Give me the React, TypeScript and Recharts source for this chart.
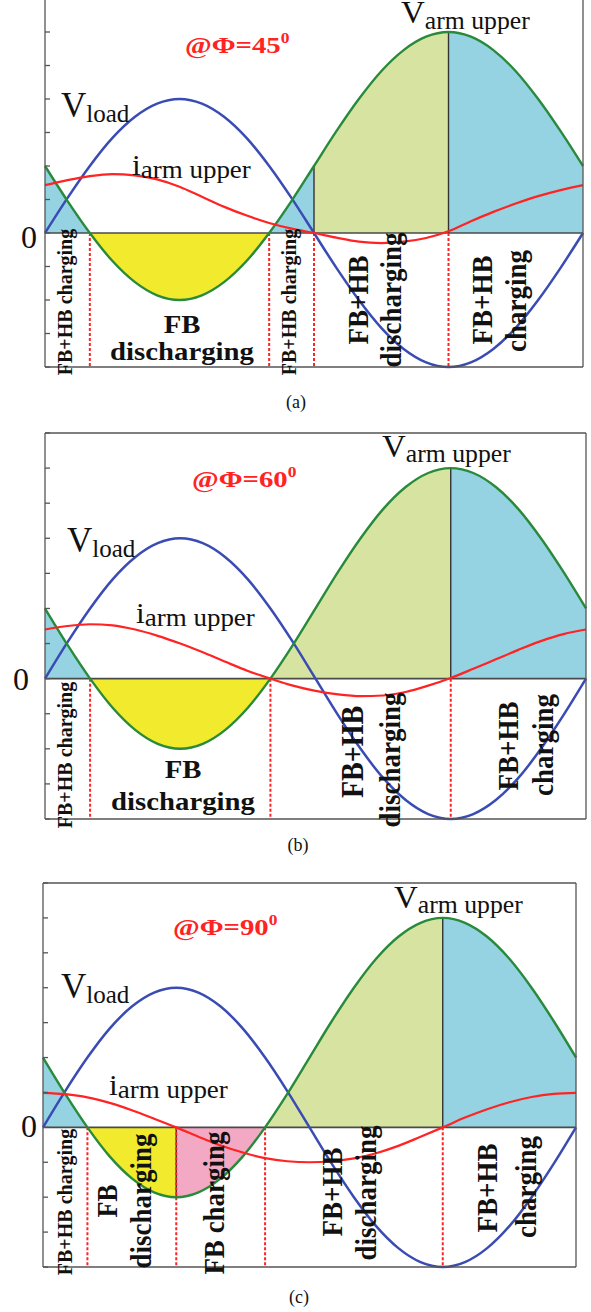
import React from 'react';
import { ComposedChart, Line, Area, XAxis, YAxis, ReferenceLine } from 'recharts';

// phase angle of the load voltage, degrees
const angles = [0, 15, 30, 45, 60, 75, 90, 105, 120, 135, 150, 165, 180, 195, 210, 225, 240, 255, 270, 285, 300, 315, 330, 345, 360];

// V load (same in all three cases)
const vLoad = [0, 1.04, 2.0, 2.83, 3.46, 3.86, 4.0, 3.86, 3.46, 2.83, 2.0, 1.04, 0, -1.04, -2.0, -2.83, -3.46, -3.86, -4.0, -3.86, -3.46, -2.83, -2.0, -1.04, 0];
// V arm upper
const vArm = [2.0, 0.96, 0, -0.83, -1.46, -1.86, -2.0, -1.86, -1.46, -0.83, 0, 0.96, 2.0, 3.04, 4.0, 4.83, 5.46, 5.86, 6.0, 5.86, 5.46, 4.83, 4.0, 3.04, 2.0];

// i arm upper for each load angle
const iArm45 = [1.43, 1.58, 1.7, 1.76, 1.72, 1.6, 1.38, 1.08, 0.78, 0.52, 0.3, 0.13, 0, -0.14, -0.26, -0.3, -0.26, -0.15, 0.05, 0.35, 0.63, 0.88, 1.1, 1.28, 1.43];
const iArm60 = [1.4, 1.5, 1.55, 1.52, 1.4, 1.22, 1.0, 0.75, 0.48, 0.22, 0, -0.2, -0.35, -0.45, -0.5, -0.48, -0.38, -0.2, 0.02, 0.28, 0.55, 0.82, 1.07, 1.27, 1.4];
const iArm90 = [0.99, 0.95, 0.86, 0.7, 0.49, 0.25, 0, -0.27, -0.52, -0.72, -0.88, -0.97, -1.0, -0.97, -0.89, -0.74, -0.53, -0.27, 0, 0.28, 0.52, 0.72, 0.87, 0.96, 0.99];

// charging / discharging intervals (degrees) and their kind
const bounds45 = [0, 30, 150, 180, 270, 360];
const kinds45 = ['hb', 'fbDis', 'hb', 'hbDis', 'hb'];
const bounds60 = [0, 30, 150, 270, 360];
const kinds60 = ['hb', 'fbDis', 'hbDis', 'hb'];
const bounds90 = [0, 30, 90, 150, 270, 360];
const kinds90 = ['hb', 'fbDis', 'fbChg', 'hbDis', 'hb'];

const edges45 = [180, 270];
const edges60 = [270];
const edges90 = [90, 270];
const dotted45 = [30, 150, 180, 270];
const dotted60 = [30, 150, 270];
const dotted90 = [30, 90, 150, 270];

const xTicks = [0, 36, 72, 108, 144, 180, 216, 252, 288, 324, 360];
const yTicks = [-4, -3, -2, -1, 0, 1, 2, 3, 4, 5, 6, 7];

const FILL: Record<string, string> = {
  hb: '#95d3e3',
  fbDis: '#f2ea2c',
  fbChg: '#f3a9c4',
  hbDis: '#d7e4a1',
};
const BLUE = '#3a4cb3';
const GREEN = '#288a3a';
const RED = '#ff2323';
const AXIS = '#555';
const SERIF = '"Liberation Serif", "Times New Roman", serif';

interface PanelProps {
  top: number;
  height: number;
  margin: { top: number; right: number; bottom: number; left: number };
  iArm: number[];
  bounds: number[];
  kinds: string[];
  edges: number[];
  dotted: number[];
  zeroRight: number;
  zeroDy: number;
}

function Panel({ top, height, margin, iArm, bounds, kinds, edges, dotted, zeroRight, zeroDy }: PanelProps) {
  const rows = angles.map((t, k) => ({ t, vLoad: vLoad[k], vArm: vArm[k], iArm: iArm[k] }));
  const regions = kinds.map((kind, r) => ({
    kind,
    data: rows.filter(d => d.t >= bounds[r] && d.t <= bounds[r + 1]),
  }));
  const armAt = (t: number) => vArm[angles.indexOf(t)];

  const zeroTick = (p: any) => {
    if (p.payload.value !== 0) return <g />;
    return (
      <text x={zeroRight} y={p.y + zeroDy} textAnchor="end" fontFamily={SERIF} fontSize={32} fill="#111">0</text>
    );
  };

  return (
    <div style={{ position: 'absolute', left: 0, top }}>
      <ComposedChart width={591} height={height} data={rows} margin={margin}>
        <XAxis xAxisId="b" dataKey="t" type="number" domain={[0, 360]} ticks={xTicks} orientation="bottom"
               mirror tick={false} tickSize={5} stroke={AXIS} strokeWidth={1.3} />
        <XAxis xAxisId="t" dataKey="t" type="number" domain={[0, 360]} ticks={xTicks} orientation="top"
               mirror tick={false} tickSize={5} stroke={AXIS} strokeWidth={1.3} />
        <YAxis yAxisId="l" type="number" domain={[-4, 7]} ticks={yTicks} orientation="left"
               mirror tick={zeroTick} tickSize={5} tickMargin={0} stroke={AXIS} strokeWidth={1.3} />
        <YAxis yAxisId="r" type="number" domain={[-4, 7]} ticks={yTicks} orientation="right"
               mirror tick={false} tickSize={5} stroke={AXIS} strokeWidth={1.3} />

        {regions.map((g, r) => (
          <Area key={'a' + r} xAxisId="b" yAxisId="l" data={g.data} dataKey="vArm" type="monotone"
                baseValue={0} fill={FILL[g.kind]} fillOpacity={1} stroke="none" isAnimationActive={false} />
        ))}

        <ReferenceLine xAxisId="b" yAxisId="l" y={0} stroke="#4a4a4a" strokeWidth={1.6} />
        {edges.map(t => (
          <ReferenceLine key={'e' + t} xAxisId="b" yAxisId="l" segment={[{ x: t, y: 0 }, { x: t, y: armAt(t) }]}
                         stroke="#333" strokeWidth={1.4} />
        ))}
        {dotted.map(t => (
          <ReferenceLine key={'d' + t} xAxisId="b" yAxisId="l" segment={[{ x: t, y: 0 }, { x: t, y: -4 }]}
                         stroke={RED} strokeWidth={2} strokeDasharray="3 2" />
        ))}

        <Line xAxisId="b" yAxisId="l" dataKey="vLoad" type="monotone" stroke={BLUE} strokeWidth={2.5} dot={false} isAnimationActive={false} />
        <Line xAxisId="b" yAxisId="l" dataKey="vArm" type="monotone" stroke={GREEN} strokeWidth={2.4} dot={false} isAnimationActive={false} />
        <Line xAxisId="b" yAxisId="l" dataKey="iArm" type="monotone" stroke={RED} strokeWidth={2.2} dot={false} isAnimationActive={false} />
      </ComposedChart>
    </div>
  );
}

function T({ x, y, size, rot = 0, sx = 1, bold = false, color = '#111', anchor = 'start', children }: any) {
  return (
    <text transform={`translate(${x},${y}) scale(${sx},1)${rot ? ` rotate(${rot})` : ''}`}
          fontSize={size} fontWeight={bold ? 700 : 400} fill={color} textAnchor={anchor} fontFamily={SERIF}>
      {children}
    </text>
  );
}

export default function App() {
  return (
    <div style={{ position: 'absolute', left: 0, top: 0, width: 591, height: 1312, background: '#fff', overflow: 'hidden' }}>
      <Panel top={-20} height={420} margin={{ top: 18.5, right: 8, bottom: 33, left: 45 }}
             iArm={iArm45} bounds={bounds45} kinds={kinds45} edges={edges45} dotted={dotted45} zeroRight={37} zeroDy={15} />
      <Panel top={413} height={426} margin={{ top: 20, right: 5, bottom: 20, left: 45 }}
             iArm={iArm60} bounds={bounds60} kinds={kinds60} edges={edges60} dotted={dotted60} zeroRight={29} zeroDy={11} />
      <Panel top={863} height={424} margin={{ top: 20, right: 15, bottom: 20, left: 43 }}
             iArm={iArm90} bounds={bounds90} kinds={kinds90} edges={edges90} dotted={dotted90} zeroRight={37} zeroDy={10} />

      <svg width={591} height={1312} style={{ position: 'absolute', left: 0, top: 0, pointerEvents: 'none' }}>
        {/* (a) */}
        <T x={185} y={53} size={23} bold sx={1.25} color={RED}>@Φ=45<tspan fontSize={14} dy={-10}>0</tspan></T>
        <T x={61} y={117} size={35}>V<tspan fontSize={25} dy={5}>load</tspan></T>
        <T x={132} y={175} size={29} sx={1.08}>i<tspan fontSize={25} dy={3}>arm upper</tspan></T>
        <T x={401} y={23} size={32} sx={1.03}>V<tspan fontSize={25} dy={6}>arm upper</tspan></T>
        <T x={72} y={302} size={20} bold rot={-90} anchor="middle">FB+HB charging</T>
        <T x={182} y={333} size={25} bold sx={1.15} anchor="middle">FB</T>
        <T x={182} y={360} size={25} bold sx={1.15} anchor="middle">discharging</T>
        <T x={296} y={302} size={20} bold rot={-90} anchor="middle">FB+HB charging</T>
        <T x={368} y={300} size={27} bold sx={1.1} rot={-90} anchor="middle">FB+HB</T>
        <T x={401} y={300} size={27} bold sx={1.1} rot={-90} anchor="middle">discharging</T>
        <T x={492} y={300} size={27} bold sx={1.1} rot={-90} anchor="middle">FB+HB</T>
        <T x={526} y={301} size={27} bold sx={1.1} rot={-90} anchor="middle">charging</T>
        <T x={296} y={408} size={18} anchor="middle">(a)</T>

        {/* (b) */}
        <T x={192} y={487} size={23} bold sx={1.25} color={RED}>@Φ=60<tspan fontSize={14} dy={-10}>0</tspan></T>
        <T x={67} y={552} size={35}>V<tspan fontSize={25} dy={5}>load</tspan></T>
        <T x={136} y={623} size={29} sx={1.08}>i<tspan fontSize={25} dy={3}>arm upper</tspan></T>
        <T x={382} y={457} size={32} sx={1.03}>V<tspan fontSize={25} dy={5}>arm upper</tspan></T>
        <T x={72} y={755} size={20} bold rot={-90} anchor="middle">FB+HB charging</T>
        <T x={183} y={778} size={25} bold sx={1.15} anchor="middle">FB</T>
        <T x={183} y={810} size={25} bold sx={1.15} anchor="middle">discharging</T>
        <T x={363} y={752} size={28} bold sx={1.1} rot={-90} anchor="middle">FB+HB</T>
        <T x={400} y={760} size={27} bold sx={1.1} rot={-90} anchor="middle">discharging</T>
        <T x={518} y={746} size={27} bold sx={1.1} rot={-90} anchor="middle">FB+HB</T>
        <T x={553} y={745} size={27} bold sx={1.1} rot={-90} anchor="middle">charging</T>
        <T x={298} y={851} size={18} anchor="middle">(b)</T>

        {/* (c) */}
        <T x={173} y={935} size={23} bold sx={1.25} color={RED}>@Φ=90<tspan fontSize={14} dy={-10}>0</tspan></T>
        <T x={61} y={998} size={35}>V<tspan fontSize={25} dy={5}>load</tspan></T>
        <T x={109} y={1095} size={29} sx={1.08}>i<tspan fontSize={25} dy={3}>arm upper</tspan></T>
        <T x={394} y={908} size={32} sx={1.03}>V<tspan fontSize={25} dy={5}>arm upper</tspan></T>
        <T x={72} y={1202} size={20} bold rot={-90} anchor="middle">FB+HB charging</T>
        <T x={117} y={1201} size={26} bold sx={1.1} rot={-90} anchor="middle">FB</T>
        <T x={151} y={1201} size={27} bold sx={1.1} rot={-90} anchor="middle">discharging</T>
        <T x={224} y={1203} size={27} bold sx={1.1} rot={-90} anchor="middle">FB charging</T>
        <T x={342} y={1192} size={27} bold sx={1.1} rot={-90} anchor="middle">FB+HB</T>
        <T x={376} y={1193} size={27} bold sx={1.1} rot={-90} anchor="middle">discharging</T>
        <T x={497} y={1188} size={27} bold sx={1.1} rot={-90} anchor="middle">FB+HB</T>
        <T x={536} y={1187} size={27} bold sx={1.1} rot={-90} anchor="middle">charging</T>
        <T x={299} y={1303} size={18} anchor="middle">(c)</T>
      </svg>
    </div>
  );
}
